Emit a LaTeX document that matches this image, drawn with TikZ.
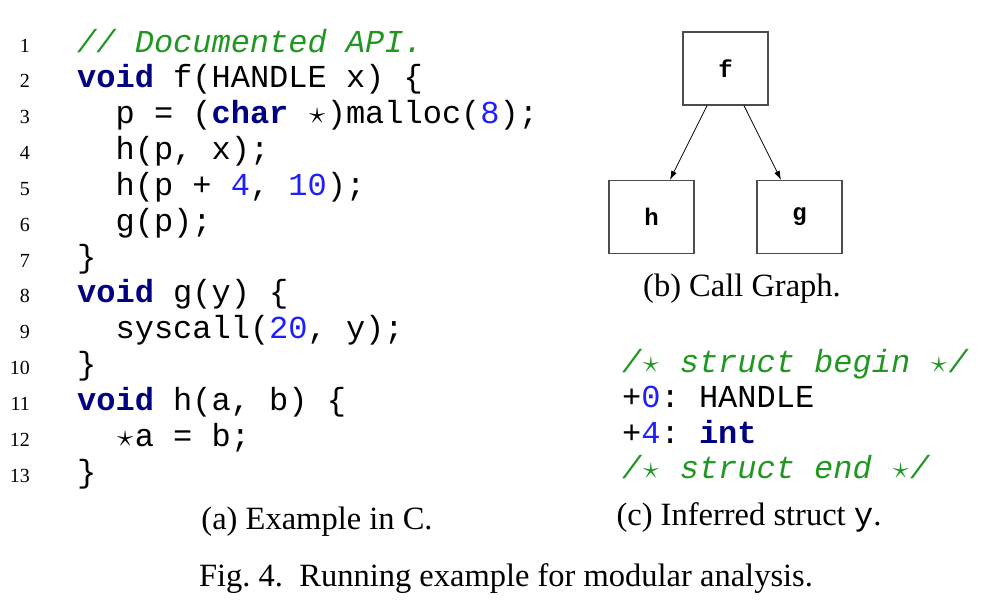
\documentclass[tikz,border=0pt]{standalone}
\usepackage{fix-cm}
\usepackage{fontspec}
\setmainfont{Liberation Serif}
\setmonofont{Liberation Mono}
\usetikzlibrary{arrows.meta}

\begin{document}
\begin{tikzpicture}[x=1pt,y=-1pt]
  % Local definitions
  \def\pitch{35.85}
  \def\tab{38.4}
  \def\kw#1{{\color{keywordcolor}\bfseries #1}}
  \def\cmt#1{{\color{commentcolor}\itshape #1}}
  \def\num#1{{\color{numbercolor}#1}}
  \def\str{\makebox[0.6em]{$\star$}}

  % Colors
  \definecolor{keywordcolor}{RGB}{0,0,128}
  \definecolor{commentcolor}{RGB}{34,150,34}
  \definecolor{numbercolor}{RGB}{30,30,255}
  \colorlet{boxcolor}{black!70}

  % Styles
  \tikzstyle{code line}=[anchor=base west,inner sep=0pt,font=\ttfamily\fontsize{32}{36}\selectfont]
  \tikzstyle{line number}=[anchor=base east,inner sep=0pt,font=\fontsize{20}{24}\selectfont]
  \tikzstyle{function box}=[draw=boxcolor,line width=1.2pt,minimum width=85pt,minimum height=73pt,
    font=\ttfamily\bfseries\fontsize{24}{28}\selectfont]
  \tikzstyle{call}=[-{Latex[length=9pt,width=6pt]},line width=0.8pt]
  \tikzstyle{caption}=[anchor=base,inner sep=0pt,font=\fontsize{32.5}{36}\selectfont]

  \useasboundingbox (0,0) rectangle (997,605);

  % (a) the C code
  \foreach \n in {1,...,13}
    \node[line number] (num\n) at (30,{52+(\n-1)*\pitch}) {\n};

  \node[code line] (c1) at (77,52) {\cmt{// Documented API.}};
  \node[code line] (c2) at (77,{52+\pitch}) {\kw{void} f(HANDLE x) \{};
  \node[code line] (c3) at ({77+\tab},{52+2*\pitch}) {p = (\kw{char} \str)malloc(\num{8});};
  \node[code line] (c4) at ({77+\tab},{52+3*\pitch}) {h(p, x);};
  \node[code line] (c5) at ({77+\tab},{52+4*\pitch}) {h(p + \num{4}, \num{10});};
  \node[code line] (c6) at ({77+\tab},{52+5*\pitch}) {g(p);};
  \node[code line] (c7) at (77,{52+6*\pitch}) {\}};
  \node[code line] (c8) at (77,{52+7*\pitch}) {\kw{void} g(y) \{};
  \node[code line] (c9) at ({77+\tab},{52+8*\pitch}) {syscall(\num{20}, y);};
  \node[code line] (c10) at (77,{52+9*\pitch}) {\}};
  \node[code line] (c11) at (77,{52+10*\pitch}) {\kw{void} h(a, b) \{};
  \node[code line] (c12) at ({77+\tab},{52+11*\pitch}) {\str a = b;};
  \node[code line] (c13) at (77,{52+12*\pitch}) {\}};

  \node[caption] (capa) at (317,529) {(a) Example in C.};

  % (b) the call graph
  \node[function box] (f) at (725.5,68.5) {f};
  \node[function box] (h) at (651.5,217) {h};
  \node[function box] (g) at (799.5,217) {g};

  \draw[call] (f) -- (h);
  \draw[call] (f) -- (g);

  \node[caption] (capb) at (742,296) {(b) Call Graph.};

  % (c) the inferred struct
  \node[code line] (s1) at (622,372) {\cmt{/\str{} struct begin \str/}};
  \node[code line] (s2) at (622,407.5) {+\num{0}: HANDLE};
  \node[code line] (s3) at (622,443) {+\num{4}: \kw{int}};
  \node[code line] (s4) at (622,478.5) {\cmt{/\str{} struct end \str/}};

  \node[caption] (capc) at (749,525) {(c) Inferred struct \texttt{y}.};

  % Figure caption
  \node[caption] (fig) at (506,586) {Fig.~4.\ \ Running example for modular analysis.};
\end{tikzpicture}
\end{document}
